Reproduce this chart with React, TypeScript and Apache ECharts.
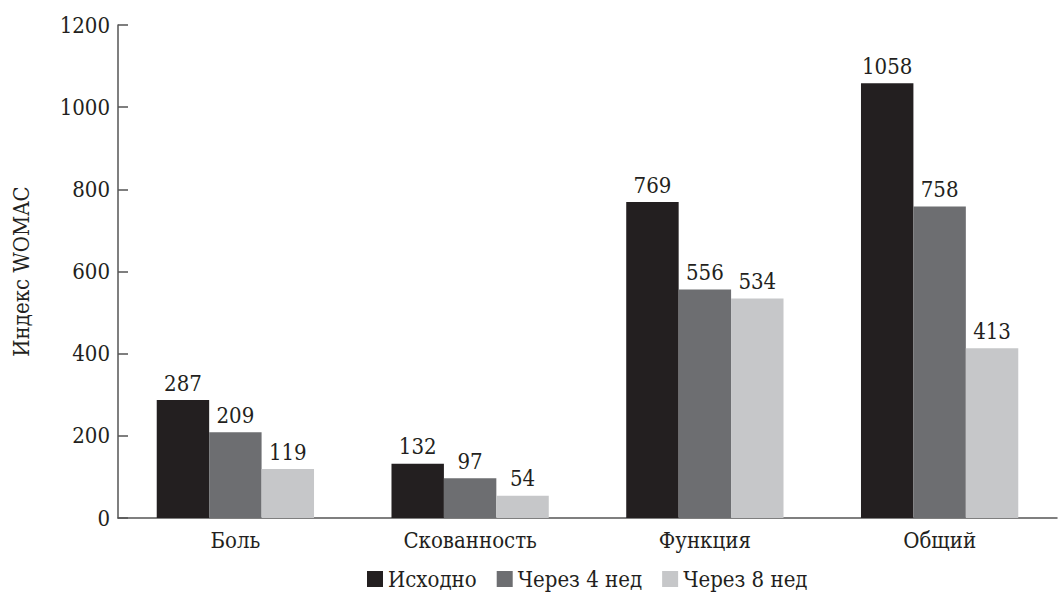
import React, { useEffect, useRef } from "react";
import * as echarts from "echarts";

const categories = ["Боль", "Скованность", "Функция", "Общий"];
const baseline = [287, 132, 769, 1058];
const week4 = [209, 97, 556, 758];
const week8 = [119, 54, 534, 413];
const seriesNames = ["Исходно", "Через 4 нед", "Через 8 нед"];
const colors = ["#231f20", "#6d6e71", "#c6c7c9"];

export default function App() {
  const ref = useRef<HTMLDivElement>(null);
  useEffect(() => {
    if (!ref.current) return;
    const chart = echarts.init(ref.current, null, { renderer: "svg" });
    const font = "DejaVu Serif Condensed";
    const fs = 22;
    const data = [baseline, week4, week8];
    chart.setOption({
      animation: false,
      textStyle: { fontFamily: font },
      grid: { left: 118, right: 2, top: 25, bottom: 81 },
      legend: {
        bottom: 4,
        left: 362,
        itemWidth: 16,
        itemHeight: 16,
        itemGap: 20,
        icon: "rect",
        textStyle: { fontFamily: font, fontSize: fs, color: "#231f20", padding: [0, 0, 0, 0] },
        data: seriesNames,
      },
      xAxis: {
        type: "category",
        data: categories,
        axisLine: { lineStyle: { color: "#555", width: 1.5 } },
        axisTick: { show: false },
        axisLabel: { fontFamily: font, fontSize: fs, color: "#231f20", margin: 11 },
      },
      yAxis: {
        type: "value",
        min: 0,
        max: 1200,
        interval: 200,
        name: "Индекс WOMAC",
        nameLocation: "middle",
        nameGap: 86,
        nameTextStyle: { fontFamily: font, fontSize: fs, color: "#231f20" },
        axisLine: { show: true, lineStyle: { color: "#555", width: 1.5 } },
        axisTick: { show: true, inside: true, length: 10, lineStyle: { color: "#555", width: 1.5 } },
        splitLine: { show: false },
        axisLabel: {
          fontFamily: font,
          fontSize: fs,
          color: "#231f20",
          margin: 8,
          formatter: (v: number) => String(v),
        },
      },
      series: seriesNames.map((name, i) => ({
        name,
        type: "bar",
        data: data[i],
        barGap: "0%",
        barCategoryGap: "33%",
        itemStyle: { color: colors[i] },
        label: {
          show: true,
          position: "top",
          distance: 6,
          fontFamily: font,
          fontSize: fs,
          color: "#231f20",
        },
      })),
    });
    return () => chart.dispose();
  }, []);
  return (
    <div
      ref={ref}
      style={{ position: "fixed", left: 0, top: 0, width: 1059, height: 599, background: "#fff" }}
    />
  );
}
